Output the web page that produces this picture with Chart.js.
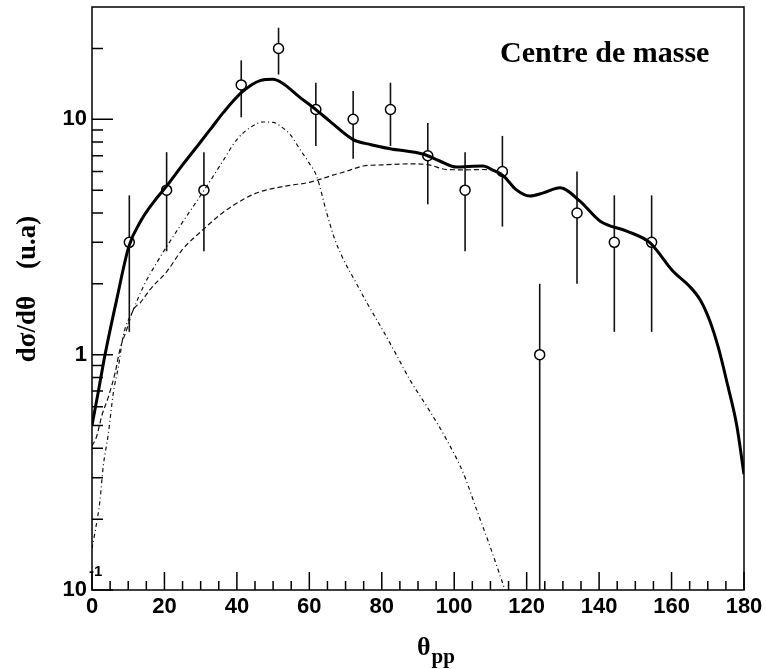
<!DOCTYPE html>
<html>
<head>
<meta charset="utf-8">
<script src="https://cdn.jsdelivr.net/npm/chart.js@4.4.1/dist/chart.umd.min.js"></script>
<style>
  html, body { margin: 0; padding: 0; background: #fff; }
  canvas { display: block; }
</style>
</head>
<body>
<canvas id="chart" width="766" height="669"></canvas>
<script>
// measured points (open circles) with their errors
const pointTheta = [10.3, 20.6, 30.9, 41.2, 51.5, 61.8, 72.1, 82.4, 92.7, 103.0, 113.3, 123.6, 133.9, 144.2, 154.5];
const pointVal = [3, 5, 5, 14, 20, 11, 10, 11, 7, 5, 6, 1, 4, 3, 3];
const pointErr = [1.75, 2.25, 2.25, 3.8, 4.5, 3.3, 3.2, 3.3, 2.65, 2.25, 2.5, 1.0, 2.0, 1.75, 1.75];

// total (thick solid)
const totalTheta = [0, 1.7, 3.6, 6.8, 10.2, 13.7, 17, 20.6, 25, 29.8, 33, 36.3, 41.3, 46.4, 50, 52.4, 57.4, 61.8, 65.7, 72.1, 77, 82.3, 91.5, 96, 100.7, 104, 108, 110.5, 113.6, 117, 120.9, 124.6, 129.2, 134.7, 140.3, 147.6, 154, 160.4, 165, 168, 170.5, 173, 175.5, 178, 180];
const totalVal = [0.5, 0.69, 1.0, 1.71, 2.89, 3.75, 4.45, 5.2, 6.4, 7.95, 9.2, 10.7, 13, 14.6, 14.8, 14.3, 12.4, 11.0, 9.8, 8.2, 7.8, 7.5, 7.1, 6.65, 6.27, 6.3, 6.33, 6.1, 5.74, 5.04, 4.72, 4.87, 5.12, 4.49, 3.69, 3.35, 2.99, 2.26, 1.95, 1.7, 1.4, 1.06, 0.74, 0.5, 0.31];

// broad component (dashed)
const dashTheta = [0, 1.3, 2.7, 4.5, 6.4, 7.7, 9.6, 11.4, 13.3, 16, 20.6, 25, 30.7, 36, 41.8, 46, 51, 55, 59.3, 62, 65.7, 70, 74.9, 80, 88.7, 93, 97.9, 103, 108, 111.7, 114];
const dashVal = [0.41, 0.45, 0.55, 0.66, 0.84, 1.05, 1.28, 1.55, 1.66, 1.89, 2.25, 2.8, 3.4, 4.0, 4.57, 4.9, 5.12, 5.25, 5.37, 5.5, 5.74, 6.0, 6.33, 6.4, 6.47, 6.4, 6.12, 6.1, 6.12, 6.02, 5.8];

// peaked component (dash-dot)
const peakTheta = [0, 0.8, 2.2, 3.1, 4.5, 5.9, 7.3, 8.6, 11.4, 14.2, 17.8, 24.3, 31.7, 36, 40, 44, 47.3, 50, 52, 55, 57.4, 60, 62, 64.8, 67, 69.4, 72.9, 76, 80.4, 84, 87.8, 93.3, 97.9, 102.5, 106.2, 109.9, 113.1, 115];
const peakVal = [0.15, 0.175, 0.24, 0.335, 0.46, 0.69, 0.89, 1.2, 1.55, 1.95, 2.45, 3.52, 5.2, 6.6, 8.2, 9.3, 9.74, 9.7, 9.36, 8.5, 7.45, 6.5, 5.74, 4.0, 3.1, 2.54, 2.02, 1.65, 1.26, 1.0, 0.78, 0.574, 0.435, 0.314, 0.219, 0.153, 0.11, 0.09];

// axes
const xTicks = [0, 20, 40, 60, 80, 100, 120, 140, 160, 180];
const xMinorTicks = [5, 10, 15, 25, 30, 35, 45, 50, 55, 65, 70, 75, 85, 90, 95, 105, 110, 115, 125, 130, 135, 145, 150, 155, 165, 170, 175];
const yTicks = [0.1, 1, 10];
const yTickLabels = ['10', '1', '10'];
const yMinorTicks = [0.2, 0.3, 0.4, 0.5, 0.6, 0.7, 0.8, 0.9, 2, 3, 4, 5, 6, 7, 8, 9, 20];

const toXY = (xs, ys) => xs.map((x, i) => ({ x, y: ys[i] }));

const decor = {
  id: 'decor',
  beforeDatasetsDraw(chart) {
    const { ctx, chartArea: a, scales: { x, y } } = chart;
    ctx.save();
    ctx.beginPath();
    ctx.rect(a.left, a.top, a.right - a.left, a.bottom - a.top);
    ctx.clip();
    ctx.strokeStyle = '#111';
    ctx.lineWidth = 1.6;
    pointTheta.forEach((t, i) => {
      const px = x.getPixelForValue(t);
      const lo = pointVal[i] - pointErr[i];
      const y0 = lo > 0 ? y.getPixelForValue(lo) : a.bottom + 5;
      const y1 = y.getPixelForValue(pointVal[i] + pointErr[i]);
      ctx.beginPath();
      ctx.moveTo(px, y0);
      ctx.lineTo(px, y1);
      ctx.stroke();
    });
    ctx.restore();
  },
  afterDraw(chart) {
    const { ctx, chartArea: a, scales: { x, y } } = chart;
    ctx.save();
    ctx.strokeStyle = '#000';
    ctx.lineWidth = 1.5;
    ctx.strokeRect(a.left, a.top, a.right - a.left, a.bottom - a.top);

    // inward ticks
    ctx.beginPath();
    xTicks.forEach((t) => { const p = x.getPixelForValue(t); ctx.moveTo(p, a.bottom); ctx.lineTo(p, a.bottom - 18); });
    xMinorTicks.forEach((t) => { const p = x.getPixelForValue(t); ctx.moveTo(p, a.bottom); ctx.lineTo(p, a.bottom - 9); });
    yTicks.forEach((t) => { const p = y.getPixelForValue(t); ctx.moveTo(a.left, p); ctx.lineTo(a.left + 21, p); });
    yMinorTicks.forEach((t) => { const p = y.getPixelForValue(t); ctx.moveTo(a.left, p); ctx.lineTo(a.left + 11, p); });
    ctx.stroke();

    ctx.fillStyle = '#000';
    // exponent of the lowest y label
    ctx.font = 'bold 15px "Liberation Sans"';
    ctx.textAlign = 'left';
    ctx.textBaseline = 'middle';
    ctx.fillText('-1', a.left - 3, y.getPixelForValue(0.1) - 18);

    // title inside the frame
    ctx.font = 'bold 30px "Liberation Serif"';
    ctx.textBaseline = 'alphabetic';
    ctx.fillText('Centre de masse', 500, 62);

    // x axis title
    ctx.font = 'bold 26px "Liberation Serif"';
    ctx.fillText('θ', 417, 655);
    const w = ctx.measureText('θ').width;
    ctx.font = 'bold 21px "Liberation Serif"';
    ctx.fillText('pp', 417 + w + 1, 663);

    // y axis title
    ctx.translate(28, 289);
    ctx.rotate(-Math.PI / 2);
    ctx.font = 'bold 27px "Liberation Serif"';
    ctx.textAlign = 'center';
    ctx.textBaseline = 'middle';
    ctx.fillText('dσ/dθ    (u.a)', 0, 0);
    ctx.restore();
  }
};

const thin = { borderColor: '#111', borderWidth: 1.2, pointRadius: 0, fill: false, cubicInterpolationMode: 'monotone', clip: 0 };

new Chart(document.getElementById('chart'), {
  type: 'line',
  data: {
    datasets: [
      { ...thin, data: toXY(dashTheta, dashVal), borderDash: [5, 3] },
      { ...thin, data: toXY(peakTheta, peakVal), borderDash: [4, 3, 1, 3] },
      { data: toXY(totalTheta, totalVal), borderColor: '#000', borderWidth: 3, pointRadius: 0, fill: false, cubicInterpolationMode: 'monotone', clip: 0 },
      {
        type: 'scatter',
        data: toXY(pointTheta, pointVal),
        pointStyle: 'circle',
        pointRadius: 5,
        pointBackgroundColor: '#fff',
        pointBorderColor: '#000',
        pointBorderWidth: 1.5,
        showLine: false
      }
    ]
  },
  options: {
    responsive: false,
    devicePixelRatio: 1,
    animation: false,
    layout: { padding: { top: 7, right: 22, left: 0, bottom: 0 } },
    plugins: { legend: { display: false }, tooltip: { enabled: false } },
    scales: {
      x: {
        type: 'linear',
        min: 0,
        max: 180,
        grid: { display: false, drawTicks: false },
        border: { display: false },
        afterBuildTicks: (s) => { s.ticks = xTicks.map((v) => ({ value: v })); },
        afterFit: (s) => { s.height = 79; s.paddingLeft = 0; s.paddingRight = 0; },
        ticks: { color: '#000', padding: 4, maxRotation: 0, autoSkip: false, font: { family: 'Liberation Sans', weight: 'bold', size: 22 } }
      },
      y: {
        type: 'logarithmic',
        min: 0.1,
        max: 30,
        grid: { display: false, drawTicks: false },
        border: { display: false },
        afterBuildTicks: (s) => { s.ticks = yTicks.map((v) => ({ value: v })); },
        afterFit: (s) => { s.width = 92; s.paddingTop = 0; s.paddingBottom = 0; },
        ticks: {
          color: '#000',
          padding: 5,
          autoSkip: false,
          font: { family: 'Liberation Sans', weight: 'bold', size: 22 },
          callback: (v, i) => yTickLabels[i]
        }
      }
    }
  },
  plugins: [decor]
});
</script>
</body>
</html>
